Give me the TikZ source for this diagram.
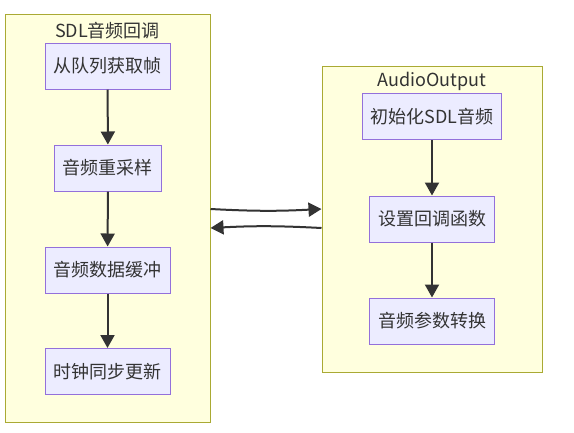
\documentclass[tikz,border=0pt]{standalone}
\usepackage{fontspec}
\setmainfont{Noto Sans CJK SC}
\usepackage{xcolor}
\usepackage{tikz}
\usetikzlibrary{arrows.meta}
\definecolor{Ink}{HTML}{333333}
\definecolor{ClusterFill}{HTML}{FFFFDE}
\definecolor{ClusterLine}{HTML}{AAAA33}
\definecolor{NodeFill}{HTML}{ECECFF}
\definecolor{NodeLine}{HTML}{9370DB}

\begin{document}
\begin{tikzpicture}[x=1pt,y=-1pt,
    cluster/.style={draw=ClusterLine,fill=ClusterFill,line width=1pt,inner sep=0pt},
    title/.style={text=Ink,font=\fontsize{18}{20}\selectfont},
    stage/.style={draw=NodeLine,fill=NodeFill,line width=1pt,text=Ink,
      font=\fontsize{18}{20}\selectfont,minimum height=46pt,inner xsep=8.5pt},
    flow/.style={draw=Ink,line width=2pt,-{Triangle[length=13pt,width=14pt]}}]
  \useasboundingbox (0,0) rectangle (574,432);
  % the two groups
  \node[cluster,minimum width=205pt,minimum height=408pt] (sdl) at (107.5,218.5) {};
  \node[cluster,minimum width=220pt,minimum height=306pt] (out) at (432,219) {};
  \node[title] (sdlTitle) at (107.5,30.5) {SDL音频回调};
  \node[title] (outTitle) at (432,81) {AudioOutput};
  % callback side
  \node[stage] (q) at (107.5,66) {从队列获取帧};
  \node[stage] (rs) at (108,168) {音频重采样};
  \node[stage] (buf) at (107.5,270) {音频数据缓冲};
  \node[stage] (clk) at (107.5,371.5) {时钟同步更新};
  % output side
  \node[stage] (init) at (432,116.5) {初始化SDL音频};
  \node[stage] (cb) at (432,219) {设置回调函数};
  \node[stage] (conv) at (432,321) {音频参数转换};
  \foreach \a/\b in {q/rs,rs/buf,buf/clk,init/cb,cb/conv}
  {
    \draw[flow] (\a) -- (\b);
  }
  \draw[flow] ([yshift=9.5pt]sdl.east) to[bend right=3] ([yshift=10pt]out.west);
  \draw[flow] ([yshift=-9pt]out.west) to[bend right=3] ([yshift=-9.5pt]sdl.east);
\end{tikzpicture}
\end{document}
